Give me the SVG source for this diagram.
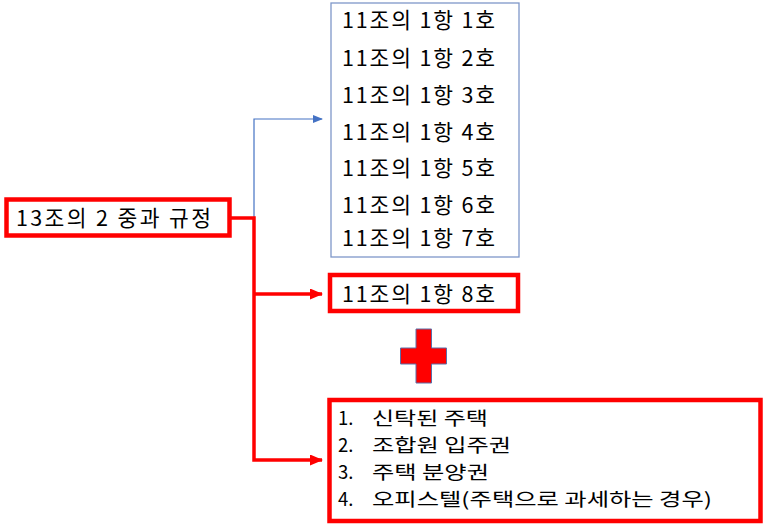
<svg xmlns="http://www.w3.org/2000/svg" width="773" height="531" viewBox="0 0 773 531">
<style>
text{font-family:"Noto Sans CJK KR","Noto Sans",sans-serif;fill:#000;}
.t{font-size:21.5px;}
.b{font-size:18.5px;}
.redbox{fill:#fff;stroke:#ff0000;stroke-width:4.5;}
.bluebox{fill:#fff;stroke:#7f97c9;stroke-width:1.3;}
</style>
<defs>
<marker id="ab" markerWidth="10" markerHeight="8" refX="9" refY="4" orient="auto" markerUnits="userSpaceOnUse"><path d="M0,0 L10,4 L0,8 Z" fill="#4472c4"/></marker>
<marker id="ar" markerWidth="13" markerHeight="11" refX="12" refY="5.5" orient="auto" markerUnits="userSpaceOnUse"><path d="M0,0 L13,5.5 L0,11 Z" fill="#ff0000"/></marker>
</defs>
<g id="connectors" fill="none">
<path d="M254,218 V119 H322" stroke="#4472c4" stroke-width="1.2" marker-end="url(#ab)"/>
<path d="M231,218 H254 V460 H322" stroke="#ff0000" stroke-width="3.5" marker-end="url(#ar)"/>
<path d="M254,294 H322" stroke="#ff0000" stroke-width="3.5" marker-end="url(#ar)"/>
</g>
<g id="node-main">
<rect class="redbox" x="6.5" y="199.5" width="223" height="36"/>
<text class="t" x="16" y="225.5" textLength="195" lengthAdjust="spacing">13조의 2 중과 규정</text>
</g>
<g id="node-list">
<rect class="bluebox" x="331" y="3" width="188" height="254"/>
<text class="t" x="342" y="28" textLength="153" lengthAdjust="spacing">11조의 1항 1호</text>
<text class="t" x="342" y="65.5" textLength="153" lengthAdjust="spacing">11조의 1항 2호</text>
<text class="t" x="342" y="102.5" textLength="153" lengthAdjust="spacing">11조의 1항 3호</text>
<text class="t" x="342" y="139.5" textLength="153" lengthAdjust="spacing">11조의 1항 4호</text>
<text class="t" x="342" y="175.5" textLength="153" lengthAdjust="spacing">11조의 1항 5호</text>
<text class="t" x="342" y="212.5" textLength="153" lengthAdjust="spacing">11조의 1항 6호</text>
<text class="t" x="342" y="245.5" textLength="153" lengthAdjust="spacing">11조의 1항 7호</text>
</g>
<g id="node-8">
<rect class="redbox" x="330" y="275" width="188" height="36"/>
<text class="t" x="342" y="301.5" textLength="153" lengthAdjust="spacing">11조의 1항 8호</text>
</g>
<g id="plus">
<path d="M416,329 H431.5 V348 H446.5 V364 H431.5 V383 H416 V364 H400.5 V348 H416 Z" fill="#ff0000" stroke="#5b6fa8" stroke-width="1"/>
</g>
<g id="node-extra">
<rect class="redbox" x="329.5" y="400" width="431" height="121"/>
<text class="b" x="338" y="425">1.</text><text class="b" x="372" y="425" textLength="116" lengthAdjust="spacingAndGlyphs">신탁된 주택</text>
<text class="b" x="338" y="452">2.</text><text class="b" x="372" y="452" textLength="139" lengthAdjust="spacingAndGlyphs">조합원 입주권</text>
<text class="b" x="338" y="479">3.</text><text class="b" x="372" y="479" textLength="117" lengthAdjust="spacingAndGlyphs">주택 분양권</text>
<text class="b" x="338" y="505.5">4.</text><text class="b" x="372" y="505.5" textLength="340" lengthAdjust="spacingAndGlyphs">오피스텔(주택으로 과세하는 경우)</text>
</g>
</svg>
